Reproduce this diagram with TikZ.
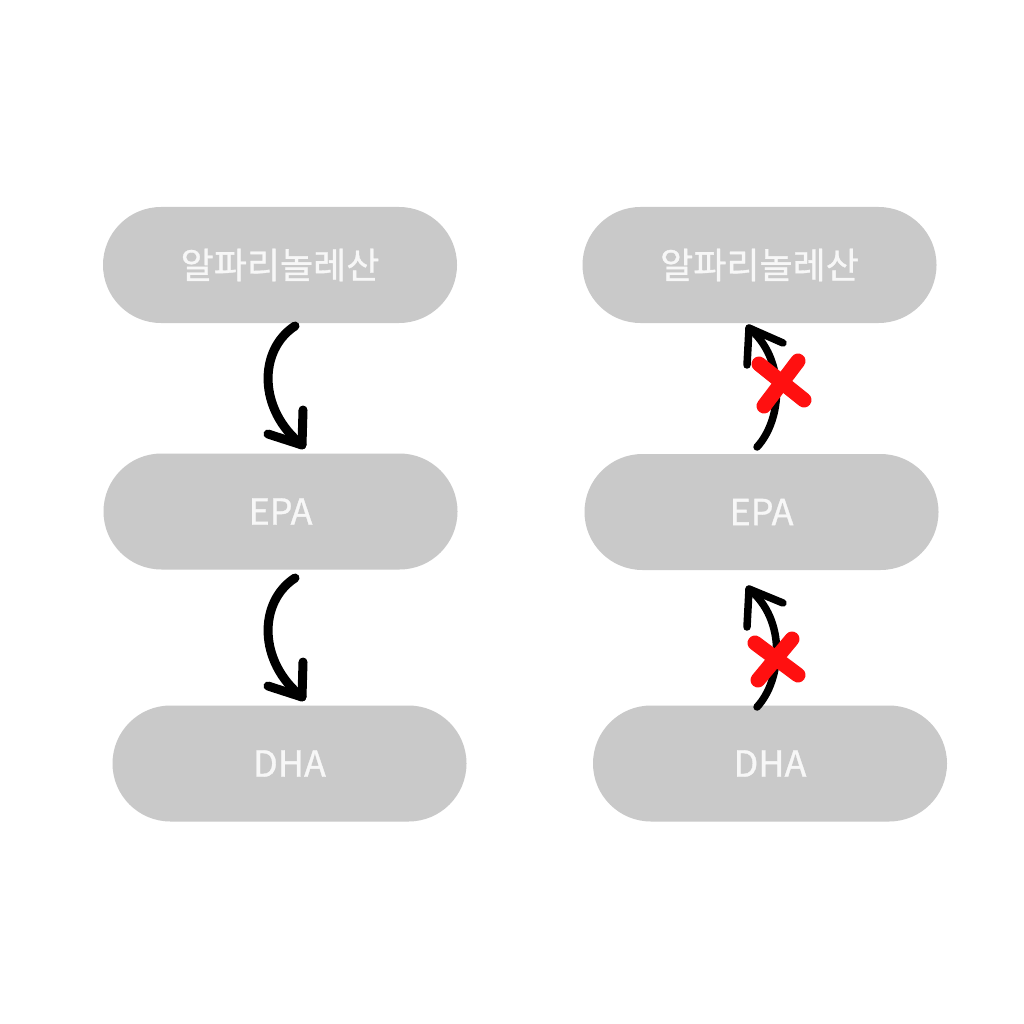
\documentclass[tikz,border=0pt]{standalone}
\usepackage{fontspec}
\newfontfamily\kr[UprightFeatures={FakeBold=0.9}]{Noto Sans CJK KR}
\definecolor{pillgray}{HTML}{C9C9C9}
\definecolor{pilltext}{HTML}{F7F7F7}
\definecolor{xred}{HTML}{FF1010}
\begin{document}
\begin{tikzpicture}[x=1pt,y=-1pt,
  pill/.style={fill=pillgray, draw=none, rounded corners=58pt,
    minimum width=354pt, minimum height=116pt, inner sep=0pt,
    text=pilltext, font=\kr\fontsize{36}{40}\selectfont},
  hand/.style={draw=black, line width=9pt, line cap=round, line join=round},
  handthin/.style={draw=black, line width=7.5pt, line cap=round, line join=round},
  cross/.style={draw=xred, line width=15pt, line cap=round}]
\useasboundingbox (0,0) rectangle (1024,1024);
\fill[white] (0,0) rectangle (1024,1024);
% left column
\node[pill] (la) at (280,265) {알파리놀레산};
\node[pill] (le) at (280.5,511.5) {EPA};
\node[pill] (ld) at (289.5,763.5) {DHA};
% right column
\node[pill] (ra) at (759.5,265) {알파리놀레산};
\node[pill] (re) at (761.5,512) {EPA};
\node[pill] (rd) at (770,763.5) {DHA};
% left arrows
\coordinate (a1s) at (295,326);
\coordinate (a1t) at (302,445);
\draw[hand] (a1s) .. controls (258,350) and (258,410) .. (a1t);
\draw[hand] (303,410) -- (a1t) -- (268,434);
\coordinate (a2s) at (295,578);
\coordinate (a2t) at (302,697);
\draw[hand] (a2s) .. controls (258,602) and (258,662) .. (a2t);
\draw[hand] (303,662) -- (a2t) -- (268,686);
% right arrows
\coordinate (b1s) at (757,447);
\coordinate (b1t) at (749,328);
\draw[handthin] (b1s) .. controls (782,420) and (787,360) .. (b1t);
\draw[handthin] (747,365) -- (b1t) -- (783,343);
\coordinate (b2s) at (757,707);
\coordinate (b2t) at (749,589);
\draw[handthin] (b2s) .. controls (782,680) and (787,620) .. (b2t);
\draw[handthin] (747,627) -- (b2t) -- (783,603);
% crosses
\draw[cross] (759,364) -- (804,400);
\draw[cross] (798,361) -- (764,406);
\draw[cross] (755,643) -- (798,675);
\draw[cross] (792,639) -- (758,680);
\end{tikzpicture}
\end{document}
